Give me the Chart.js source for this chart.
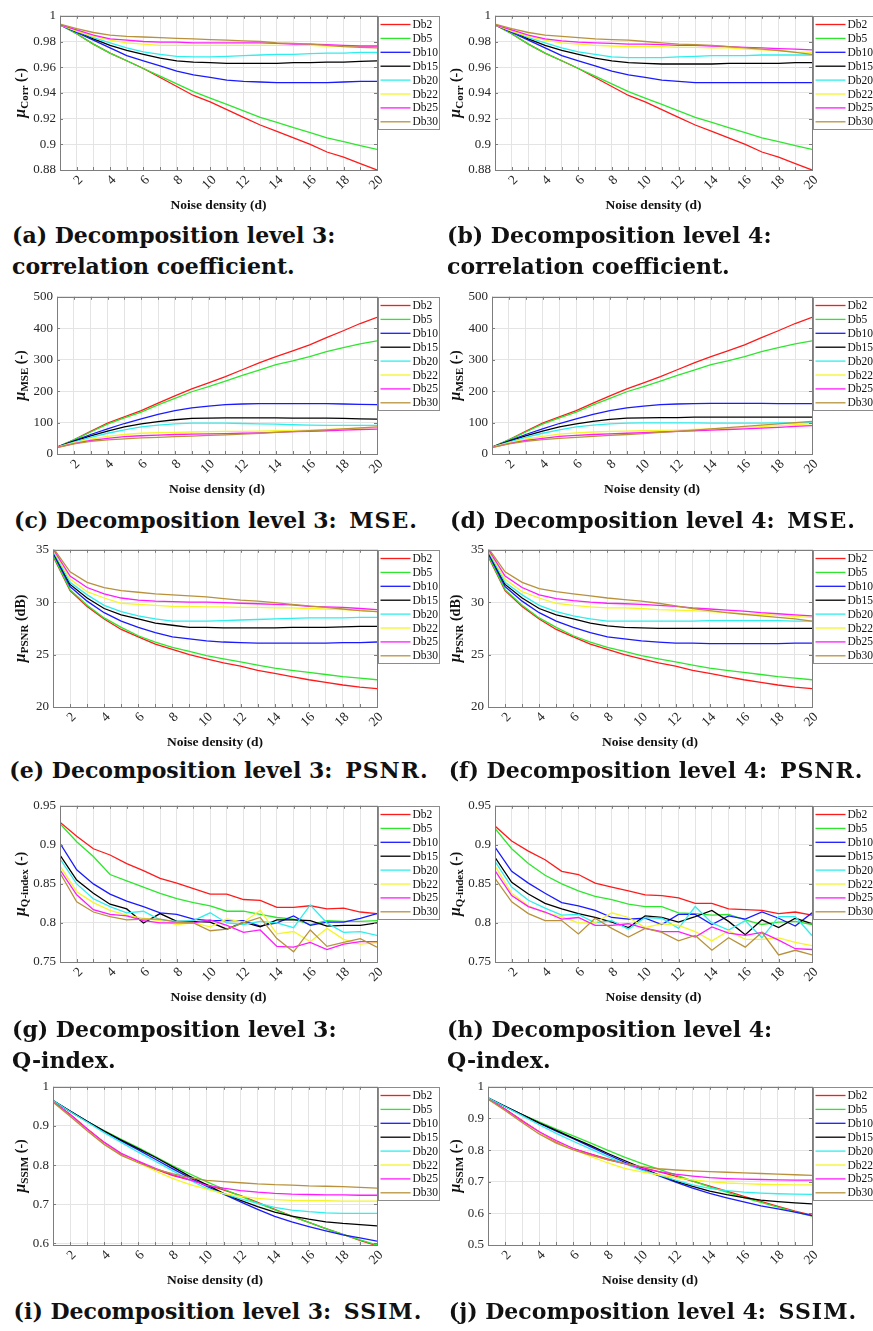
<!DOCTYPE html>
<html>
<head>
<meta charset="utf-8">
<script src="https://cdn.jsdelivr.net/npm/chart.js@4.4.1/dist/chart.umd.min.js"></script>
<style>
  html, body { margin: 0; padding: 0; background: #fff; }
  body { width: 873px; height: 1331px; position: relative; overflow: hidden; }
  .panel { position: absolute; }
  .cap {
    position: absolute;
    font-family: "DejaVu Serif", serif;
    font-weight: bold;
    font-size: 22px;
    line-height: 31px;
    color: #111;
    white-space: nowrap;
  }
  .cap.one { width: 440px; text-align: center; }
  .cap .tail { margin-left: 5px; letter-spacing: 1px; }
</style>
</head>
<body>
<script>
// x values (noise density) and tick labels
const noiseDensity = [1, 2, 3, 4, 5, 6, 7, 8, 9, 10, 11, 12, 13, 14, 15, 16, 17, 18, 19, 20];
const xLabelled = [2, 4, 6, 8, 10, 12, 14, 16, 18, 20];
const seriesNames = ['Db2', 'Db5', 'Db10', 'Db15', 'Db20', 'Db22', 'Db25', 'Db30'];
const seriesColors = ['#ff1a1a', '#2ee62e', '#1a1aff', '#000000', '#2eeeee', '#f5f52a', '#ff1aff', '#b8913a'];

const corrTicks = [0.88, 0.9, 0.92, 0.94, 0.96, 0.98, 1];
const mseTicks = [0, 100, 200, 300, 400, 500];
const psnrTicks = [20, 25, 30, 35];
const qTicks = [0.75, 0.8, 0.85, 0.9, 0.95];
const ssimTicks3 = [0.6, 0.7, 0.8, 0.9, 1];
const ssimTicks4 = [0.5, 0.6, 0.7, 0.8, 0.9, 1];

// one row per series, in seriesNames order
const corrLevel3 = [
  [0.993, 0.986, 0.978, 0.971, 0.965, 0.959, 0.952, 0.945, 0.938, 0.933, 0.927, 0.921, 0.915, 0.910, 0.905, 0.900, 0.894, 0.890, 0.885, 0.880],
  [0.993, 0.986, 0.978, 0.971, 0.965, 0.959, 0.953, 0.947, 0.941, 0.936, 0.931, 0.926, 0.921, 0.917, 0.913, 0.909, 0.905, 0.902, 0.899, 0.896],
  [0.993, 0.987, 0.981, 0.975, 0.969, 0.965, 0.961, 0.957, 0.954, 0.952, 0.950, 0.949, 0.9485, 0.948, 0.948, 0.948, 0.948, 0.9485, 0.949, 0.949],
  [0.993, 0.988, 0.982, 0.977, 0.973, 0.970, 0.967, 0.965, 0.964, 0.9635, 0.963, 0.963, 0.963, 0.963, 0.9635, 0.9635, 0.964, 0.964, 0.9645, 0.965],
  [0.993, 0.988, 0.983, 0.979, 0.975, 0.972, 0.970, 0.9685, 0.968, 0.968, 0.9685, 0.969, 0.9695, 0.970, 0.970, 0.9705, 0.971, 0.971, 0.9715, 0.9715],
  [0.993, 0.988, 0.984, 0.981, 0.979, 0.978, 0.977, 0.977, 0.977, 0.977, 0.977, 0.977, 0.977, 0.977, 0.977, 0.977, 0.9765, 0.9765, 0.976, 0.976],
  [0.993, 0.989, 0.985, 0.982, 0.981, 0.980, 0.9795, 0.9795, 0.979, 0.979, 0.979, 0.979, 0.979, 0.9785, 0.978, 0.978, 0.9775, 0.977, 0.9765, 0.9765],
  [0.9935, 0.990, 0.987, 0.985, 0.984, 0.9835, 0.983, 0.9825, 0.982, 0.9815, 0.981, 0.9805, 0.980, 0.979, 0.9785, 0.978, 0.977, 0.976, 0.9755, 0.975]
];
const corrLevel4 = [
  [0.993, 0.986, 0.978, 0.971, 0.965, 0.959, 0.952, 0.945, 0.938, 0.933, 0.927, 0.921, 0.915, 0.910, 0.905, 0.900, 0.894, 0.890, 0.885, 0.880],
  [0.993, 0.986, 0.978, 0.971, 0.965, 0.959, 0.953, 0.947, 0.941, 0.936, 0.931, 0.926, 0.921, 0.917, 0.913, 0.909, 0.905, 0.902, 0.899, 0.896],
  [0.993, 0.987, 0.981, 0.975, 0.969, 0.965, 0.961, 0.957, 0.954, 0.952, 0.950, 0.949, 0.948, 0.948, 0.948, 0.948, 0.948, 0.948, 0.948, 0.948],
  [0.993, 0.988, 0.982, 0.977, 0.973, 0.970, 0.967, 0.965, 0.9635, 0.963, 0.9625, 0.9625, 0.9625, 0.9625, 0.963, 0.963, 0.963, 0.963, 0.9635, 0.9635],
  [0.993, 0.988, 0.983, 0.979, 0.975, 0.972, 0.970, 0.968, 0.9675, 0.9675, 0.9675, 0.968, 0.9685, 0.969, 0.969, 0.969, 0.9695, 0.9695, 0.9695, 0.9695],
  [0.993, 0.988, 0.984, 0.981, 0.979, 0.978, 0.977, 0.9765, 0.976, 0.976, 0.976, 0.9755, 0.9755, 0.975, 0.975, 0.974, 0.9735, 0.973, 0.972, 0.9715],
  [0.993, 0.989, 0.985, 0.982, 0.9805, 0.9795, 0.979, 0.9785, 0.978, 0.978, 0.9775, 0.977, 0.977, 0.9765, 0.976, 0.9755, 0.975, 0.9745, 0.974, 0.9735],
  [0.9935, 0.990, 0.987, 0.985, 0.984, 0.983, 0.982, 0.9815, 0.981, 0.980, 0.979, 0.978, 0.9775, 0.977, 0.976, 0.975, 0.974, 0.973, 0.9715, 0.970]
];
const mseLevel3 = [
  [22, 45, 72, 98, 118, 138, 162, 185, 207, 226, 246, 268, 290, 310, 328, 347, 370, 392, 415, 435],
  [22, 45, 70, 95, 115, 133, 156, 177, 198, 214, 232, 250, 267, 284, 296, 310, 326, 338, 350, 360],
  [22, 42, 62, 80, 97, 112, 126, 138, 147, 152, 157, 159, 160, 160, 160, 160, 160, 159, 158, 157],
  [22, 40, 58, 73, 86, 96, 103, 109, 113, 114, 115, 115, 115, 115, 114, 114, 114, 113, 112, 111],
  [22, 38, 53, 66, 77, 86, 92, 96, 98, 98, 98, 97, 96, 95, 93, 92, 91, 91, 91, 91],
  [22, 35, 47, 56, 62, 66, 68, 69, 70, 71, 72, 72, 73, 74, 75, 76, 78, 80, 82, 84],
  [21, 33, 43, 50, 55, 58, 60, 62, 63, 64, 65, 66, 67, 69, 71, 72, 74, 76, 78, 79],
  [20, 32, 40, 45, 48, 51, 53, 55, 57, 59, 61, 63, 66, 69, 71, 74, 77, 80, 83, 86]
];
const mseLevel4 = [
  [22, 45, 72, 98, 118, 138, 162, 185, 207, 226, 246, 268, 290, 310, 328, 347, 370, 392, 415, 435],
  [22, 45, 70, 95, 115, 133, 156, 177, 198, 214, 232, 250, 267, 284, 296, 310, 326, 338, 350, 360],
  [22, 42, 62, 80, 97, 112, 126, 138, 147, 152, 157, 159, 160, 161, 161, 161, 161, 160, 160, 160],
  [22, 40, 58, 73, 86, 96, 104, 110, 114, 115, 116, 116, 117, 117, 117, 117, 117, 117, 117, 117],
  [22, 38, 53, 66, 77, 86, 92, 96, 98, 99, 99, 99, 99, 98, 98, 98, 98, 99, 99, 100],
  [22, 35, 47, 56, 63, 67, 70, 72, 73, 74, 75, 76, 78, 80, 82, 84, 87, 90, 93, 97],
  [21, 33, 43, 50, 56, 59, 62, 64, 66, 68, 70, 72, 74, 76, 78, 80, 82, 85, 88, 90],
  [20, 32, 40, 46, 50, 53, 56, 59, 62, 65, 69, 72, 76, 80, 84, 88, 92, 96, 100, 104]
];
const psnrLevel3 = [
  [34.4, 31.1, 29.6, 28.4, 27.4, 26.7, 26.0, 25.5, 25.0, 24.6, 24.2, 23.9, 23.5, 23.2, 22.9, 22.6, 22.35, 22.1, 21.9, 21.75],
  [34.5, 31.2, 29.7, 28.5, 27.6, 26.8, 26.2, 25.7, 25.3, 24.9, 24.6, 24.3, 24.0, 23.7, 23.5, 23.3, 23.1, 22.9, 22.75, 22.6],
  [34.7, 31.5, 30.1, 29.0, 28.2, 27.6, 27.1, 26.7, 26.5, 26.3, 26.2, 26.15, 26.1, 26.1, 26.1, 26.1, 26.1, 26.15, 26.15, 26.2],
  [34.8, 31.7, 30.4, 29.4, 28.8, 28.4, 28.0, 27.8, 27.6, 27.6, 27.55, 27.55, 27.55, 27.55, 27.6, 27.6, 27.6, 27.65, 27.7, 27.7],
  [34.9, 31.9, 30.7, 29.7, 29.1, 28.7, 28.4, 28.2, 28.2, 28.2, 28.25, 28.3, 28.35, 28.4, 28.45, 28.5, 28.5, 28.5, 28.55, 28.55],
  [35.0, 32.2, 31.0, 30.4, 29.9, 29.8, 29.7, 29.6, 29.6, 29.55, 29.55, 29.5, 29.5, 29.45, 29.45, 29.4, 29.35, 29.3, 29.2, 29.1],
  [35.1, 32.5, 31.4, 30.8, 30.4, 30.2, 30.1, 30.05, 30.0, 30.0, 29.95, 29.9, 29.85, 29.8, 29.75, 29.6, 29.55, 29.5, 29.4, 29.3],
  [35.2, 32.9, 31.9, 31.4, 31.1, 30.95, 30.8, 30.7, 30.6, 30.5, 30.35, 30.2, 30.1, 29.95, 29.8, 29.65, 29.5, 29.35, 29.2, 29.1]
];
const psnrLevel4 = [
  [34.4, 31.1, 29.6, 28.4, 27.4, 26.7, 26.0, 25.5, 25.0, 24.6, 24.2, 23.9, 23.5, 23.2, 22.9, 22.6, 22.35, 22.1, 21.9, 21.75],
  [34.5, 31.2, 29.7, 28.5, 27.6, 26.8, 26.2, 25.7, 25.3, 24.9, 24.6, 24.3, 24.0, 23.7, 23.5, 23.3, 23.1, 22.9, 22.75, 22.6],
  [34.7, 31.5, 30.1, 29.0, 28.2, 27.6, 27.1, 26.7, 26.5, 26.3, 26.2, 26.1, 26.1, 26.05, 26.05, 26.05, 26.05, 26.05, 26.1, 26.1],
  [34.8, 31.7, 30.4, 29.4, 28.8, 28.4, 28.0, 27.75, 27.6, 27.55, 27.5, 27.5, 27.5, 27.5, 27.5, 27.5, 27.5, 27.5, 27.5, 27.5],
  [34.9, 31.9, 30.7, 29.7, 29.1, 28.7, 28.4, 28.2, 28.2, 28.2, 28.2, 28.2, 28.2, 28.25, 28.25, 28.25, 28.25, 28.25, 28.2, 28.2],
  [35.0, 32.2, 31.0, 30.4, 29.9, 29.7, 29.55, 29.45, 29.45, 29.4, 29.3, 29.25, 29.2, 29.1, 29.0, 28.9, 28.85, 28.75, 28.65, 28.55],
  [35.1, 32.5, 31.4, 30.7, 30.35, 30.15, 30.0, 29.9, 29.85, 29.8, 29.7, 29.6, 29.45, 29.35, 29.25, 29.15, 29.0, 28.9, 28.8, 28.7],
  [35.2, 32.9, 31.9, 31.3, 31.0, 30.8, 30.6, 30.4, 30.25, 30.1, 29.9, 29.65, 29.4, 29.2, 29.0, 28.85, 28.7, 28.55, 28.4, 28.2]
];
const qLevel3 = [
  [0.929, 0.911, 0.895, 0.887, 0.876, 0.867, 0.857, 0.851, 0.844, 0.837, 0.837, 0.830, 0.829, 0.820, 0.820, 0.822, 0.818, 0.819, 0.814, 0.812],
  [0.927, 0.904, 0.885, 0.862, 0.854, 0.846, 0.838, 0.831, 0.826, 0.822, 0.815, 0.815, 0.811, 0.807, 0.805, 0.798, 0.803, 0.802, 0.802, 0.803],
  [0.902, 0.868, 0.850, 0.837, 0.828, 0.821, 0.813, 0.811, 0.805, 0.803, 0.803, 0.803, 0.796, 0.800, 0.809, 0.797, 0.801, 0.801, 0.806, 0.812],
  [0.887, 0.855, 0.838, 0.824, 0.818, 0.800, 0.812, 0.802, 0.802, 0.801, 0.792, 0.801, 0.795, 0.804, 0.804, 0.803, 0.796, 0.797, 0.797, 0.800],
  [0.882, 0.850, 0.831, 0.821, 0.813, 0.815, 0.804, 0.802, 0.803, 0.813, 0.800, 0.798, 0.802, 0.800, 0.794, 0.823, 0.800, 0.788, 0.789, 0.784],
  [0.873, 0.840, 0.826, 0.816, 0.810, 0.806, 0.803, 0.798, 0.800, 0.795, 0.805, 0.801, 0.816, 0.786, 0.789, 0.776, 0.793, 0.779, 0.773, 0.775],
  [0.868, 0.836, 0.817, 0.811, 0.809, 0.803, 0.800, 0.800, 0.800, 0.804, 0.797, 0.788, 0.791, 0.770, 0.769, 0.775, 0.766, 0.773, 0.776, 0.776],
  [0.864, 0.827, 0.814, 0.808, 0.804, 0.805, 0.805, 0.801, 0.800, 0.790, 0.792, 0.800, 0.807, 0.780, 0.763, 0.791, 0.770, 0.775, 0.780, 0.769]
];
const qLevel4 = [
  [0.924, 0.905, 0.892, 0.881, 0.866, 0.862, 0.851, 0.846, 0.841, 0.836, 0.835, 0.832, 0.825, 0.825, 0.818, 0.817, 0.816, 0.812, 0.814, 0.810],
  [0.921, 0.895, 0.876, 0.861, 0.850, 0.841, 0.834, 0.830, 0.824, 0.821, 0.821, 0.813, 0.812, 0.810, 0.811, 0.804, 0.798, 0.801, 0.802, 0.798],
  [0.897, 0.866, 0.851, 0.838, 0.826, 0.822, 0.816, 0.807, 0.805, 0.806, 0.798, 0.811, 0.811, 0.798, 0.809, 0.805, 0.814, 0.806, 0.796, 0.813],
  [0.884, 0.852, 0.837, 0.825, 0.818, 0.812, 0.807, 0.801, 0.794, 0.809, 0.807, 0.801, 0.808, 0.816, 0.802, 0.785, 0.804, 0.794, 0.806, 0.799],
  [0.879, 0.846, 0.829, 0.819, 0.810, 0.811, 0.800, 0.803, 0.792, 0.807, 0.806, 0.793, 0.821, 0.800, 0.791, 0.803, 0.781, 0.808, 0.808, 0.784],
  [0.873, 0.838, 0.822, 0.813, 0.808, 0.800, 0.800, 0.813, 0.807, 0.794, 0.799, 0.797, 0.789, 0.777, 0.790, 0.779, 0.779, 0.781, 0.775, 0.771],
  [0.867, 0.835, 0.821, 0.814, 0.805, 0.807, 0.797, 0.797, 0.799, 0.793, 0.789, 0.789, 0.782, 0.795, 0.787, 0.784, 0.788, 0.778, 0.767, 0.766],
  [0.857, 0.827, 0.812, 0.803, 0.803, 0.786, 0.806, 0.793, 0.782, 0.793, 0.788, 0.777, 0.784, 0.765, 0.781, 0.769, 0.788, 0.759, 0.765, 0.759]
];
const ssimLevel3 = [
  [0.962, 0.930, 0.893, 0.858, 0.828, 0.808, 0.790, 0.774, 0.762, 0.750, 0.737, 0.722, 0.705, 0.687, 0.670, 0.654, 0.638, 0.623, 0.608, 0.594],
  [0.964, 0.937, 0.911, 0.888, 0.866, 0.845, 0.822, 0.799, 0.778, 0.758, 0.739, 0.721, 0.703, 0.686, 0.670, 0.654, 0.638, 0.623, 0.609, 0.596],
  [0.965, 0.938, 0.912, 0.886, 0.862, 0.839, 0.815, 0.791, 0.768, 0.746, 0.726, 0.706, 0.687, 0.669, 0.655, 0.643, 0.632, 0.622, 0.614, 0.606],
  [0.965, 0.938, 0.912, 0.887, 0.864, 0.842, 0.820, 0.796, 0.772, 0.750, 0.728, 0.710, 0.694, 0.680, 0.670, 0.662, 0.655, 0.651, 0.648, 0.645],
  [0.965, 0.937, 0.910, 0.883, 0.858, 0.833, 0.810, 0.786, 0.762, 0.741, 0.727, 0.714, 0.702, 0.692, 0.685, 0.681, 0.678, 0.677, 0.677, 0.677],
  [0.962, 0.926, 0.890, 0.856, 0.830, 0.806, 0.785, 0.766, 0.751, 0.739, 0.727, 0.720, 0.715, 0.712, 0.710, 0.709, 0.709, 0.708, 0.708, 0.708],
  [0.962, 0.929, 0.892, 0.858, 0.830, 0.810, 0.792, 0.776, 0.763, 0.748, 0.741, 0.735, 0.731, 0.728, 0.726, 0.725, 0.724, 0.724, 0.723, 0.723],
  [0.961, 0.925, 0.888, 0.853, 0.825, 0.806, 0.790, 0.778, 0.768, 0.761, 0.758, 0.755, 0.752, 0.750, 0.749, 0.747, 0.746, 0.745, 0.743, 0.741]
];
const ssimLevel4 = [
  [0.962, 0.930, 0.893, 0.858, 0.826, 0.805, 0.788, 0.772, 0.758, 0.745, 0.732, 0.718, 0.702, 0.686, 0.670, 0.654, 0.638, 0.622, 0.607, 0.594],
  [0.964, 0.937, 0.912, 0.889, 0.866, 0.845, 0.823, 0.800, 0.778, 0.758, 0.740, 0.722, 0.703, 0.684, 0.667, 0.650, 0.635, 0.620, 0.605, 0.591],
  [0.965, 0.938, 0.912, 0.885, 0.860, 0.836, 0.811, 0.786, 0.762, 0.740, 0.719, 0.699, 0.680, 0.663, 0.649, 0.636, 0.624, 0.614, 0.604, 0.593],
  [0.965, 0.938, 0.912, 0.886, 0.862, 0.838, 0.815, 0.790, 0.767, 0.745, 0.722, 0.702, 0.685, 0.670, 0.659, 0.650, 0.642, 0.637, 0.633, 0.630],
  [0.965, 0.937, 0.909, 0.880, 0.853, 0.828, 0.804, 0.780, 0.757, 0.737, 0.722, 0.705, 0.690, 0.679, 0.672, 0.667, 0.664, 0.662, 0.661, 0.660],
  [0.962, 0.927, 0.891, 0.857, 0.828, 0.803, 0.780, 0.760, 0.742, 0.731, 0.722, 0.713, 0.706, 0.700, 0.696, 0.694, 0.692, 0.691, 0.690, 0.690],
  [0.962, 0.929, 0.892, 0.858, 0.830, 0.805, 0.787, 0.770, 0.757, 0.743, 0.732, 0.724, 0.718, 0.713, 0.710, 0.708, 0.707, 0.706, 0.705, 0.705],
  [0.961, 0.925, 0.887, 0.851, 0.822, 0.801, 0.784, 0.770, 0.758, 0.748, 0.741, 0.737, 0.734, 0.732, 0.730, 0.728, 0.726, 0.724, 0.722, 0.720]
];

// layout: rows (plot top / plot height) and columns
const rows = [
  { top: 12, h: 158 },
  { top: 293, h: 161 },
  { top: 546, h: 161 },
  { top: 802, h: 160 },
  { top: 1083, h: 162 }
];
const colX = [0, 435];
const PAD_TOP = 8, XAXIS_H = 46, LEGEND_W = 63, CANVAS_W = 440;

const panels = [
  { row: 0, col: 0, data: corrLevel3, ticks: corrTicks, min: 0.88, max: 1, sub: 'Corr', unit: ' (-)', yw: 60 },
  { row: 0, col: 1, data: corrLevel4, ticks: corrTicks, min: 0.88, max: 1, sub: 'Corr', unit: ' (-)', yw: 60 },
  { row: 1, col: 0, data: mseLevel3, ticks: mseTicks, min: 0, max: 500, sub: 'MSE', unit: ' (-)', yw: 57 },
  { row: 1, col: 1, data: mseLevel4, ticks: mseTicks, min: 0, max: 500, sub: 'MSE', unit: ' (-)', yw: 57 },
  { row: 2, col: 0, data: psnrLevel3, ticks: psnrTicks, min: 20, max: 35, sub: 'PSNR', unit: ' (dB)', yw: 53 },
  { row: 2, col: 1, data: psnrLevel4, ticks: psnrTicks, min: 20, max: 35, sub: 'PSNR', unit: ' (dB)', yw: 53 },
  { row: 3, col: 0, data: qLevel3, ticks: qTicks, min: 0.75, max: 0.95, sub: 'Q-index', unit: ' (-)', yw: 60 },
  { row: 3, col: 1, data: qLevel4, ticks: qTicks, min: 0.75, max: 0.95, sub: 'Q-index', unit: ' (-)', yw: 60 },
  { row: 4, col: 0, data: ssimLevel3, ticks: ssimTicks3, min: 0.596, max: 1, sub: 'SSIM', unit: ' (-)', yw: 53 },
  { row: 4, col: 1, data: ssimLevel4, ticks: ssimTicks4, min: 0.5, max: 1, sub: 'SSIM', unit: ' (-)', yw: 53 }
];

// two-line captions start at the left margin, one-line captions are centred
const captions = [
  { x: 12, y: 220, html: '(a) Decomposition level 3:<br>correlation coefficient.' },
  { x: 447, y: 220, html: '(b) Decomposition level 4:<br>correlation coefficient.' },
  { cx: 216, y: 505, html: '(c) Decomposition level 3: <span class="tail">MSE.</span>' },
  { cx: 653, y: 505, html: '(d) Decomposition level 4: <span class="tail">MSE.</span>' },
  { cx: 219, y: 755, html: '(e) Decomposition level 3: <span class="tail">PSNR.</span>' },
  { cx: 656, y: 755, html: '(f) Decomposition level 4: <span class="tail">PSNR.</span>' },
  { x: 12, y: 1014, html: '(g) Decomposition level 3:<br>Q-index.' },
  { x: 447, y: 1014, html: '(h) Decomposition level 4:<br>Q-index.' },
  { cx: 218, y: 1296, html: '(i) Decomposition level 3: <span class="tail">SSIM.</span>' },
  { cx: 653, y: 1296, html: '(j) Decomposition level 4: <span class="tail">SSIM.</span>' }
];

const SERIF = '"Liberation Serif", "Times New Roman", serif';
Chart.defaults.font.family = SERIF;
Chart.defaults.color = '#262626';

// box, inner tick marks, rotated x labels, y title with subscript, legend box
const matlabLook = {
  id: 'matlabLook',
  afterDraw(chart, args, opts) {
    const ctx = chart.ctx;
    const { left, right, top, bottom } = chart.chartArea;
    const xs = chart.scales.x, ys = chart.scales.y;
    ctx.save();
    ctx.strokeStyle = '#7d7d7d';
    ctx.lineWidth = 1;
    ctx.beginPath();
    xs.ticks.forEach(t => {
      const px = Math.round(xs.getPixelForValue(t.value)) + 0.5;
      ctx.moveTo(px, bottom); ctx.lineTo(px, bottom - 3);
      ctx.moveTo(px, top); ctx.lineTo(px, top + 3);
    });
    ys.ticks.forEach(t => {
      const py = Math.round(ys.getPixelForValue(t.value)) + 0.5;
      ctx.moveTo(left, py); ctx.lineTo(left + 3, py);
      ctx.moveTo(right, py); ctx.lineTo(right - 3, py);
    });
    ctx.stroke();
    ctx.strokeRect(Math.round(left) + 0.5, Math.round(top) + 0.5, Math.round(right - left), Math.round(bottom - top));

    // x tick labels rotated 45 degrees
    ctx.fillStyle = '#262626';
    ctx.font = '13.5px ' + SERIF;
    ctx.textAlign = 'right';
    ctx.textBaseline = 'middle';
    xLabelled.forEach(v => {
      const px = xs.getPixelForValue(v);
      ctx.save();
      ctx.translate(px + 4, bottom + 8);
      ctx.rotate(-Math.PI / 4);
      ctx.fillText(String(v), 0, 0);
      ctx.restore();
    });
    ctx.textAlign = 'left';

    // y axis title: mu with subscript
    ctx.save();
    ctx.translate(21, (top + bottom) / 2);
    ctx.rotate(-Math.PI / 2);
    ctx.fillStyle = '#111';
    ctx.textBaseline = 'alphabetic';
    const fMu = 'bold italic 16px ' + SERIF;
    const fSub = 'bold 11px ' + SERIF;
    const fUnit = 'bold 14px ' + SERIF;
    ctx.font = fMu; const wMu = ctx.measureText('\u03bc').width;
    ctx.font = fSub; const wSub = ctx.measureText(opts.sub).width;
    ctx.font = fUnit; const wUnit = ctx.measureText(opts.unit).width;
    let x0 = -(wMu + wSub + wUnit) / 2;
    ctx.font = fMu; ctx.fillText('\u03bc', x0, 4); x0 += wMu;
    ctx.font = fSub; ctx.fillText(opts.sub, x0, 7); x0 += wSub;
    ctx.font = fUnit; ctx.fillText(opts.unit, x0, 4);
    ctx.restore();

    // legend box
    const bx = Math.round(right) + 1.5, by = Math.round(top) + 0.5, bw = 61, bh = 113;
    ctx.fillStyle = '#fff';
    ctx.fillRect(bx, by, bw, bh);
    ctx.strokeStyle = '#8c8c8c';
    ctx.strokeRect(bx, by, bw, bh);
    ctx.font = '11.5px ' + SERIF;
    ctx.textBaseline = 'middle';
    chart.data.datasets.forEach((ds, i) => {
      const y = by + 8 + i * 13.9;
      ctx.strokeStyle = ds.borderColor;
      ctx.lineWidth = 1.3;
      ctx.beginPath();
      ctx.moveTo(bx + 2, y); ctx.lineTo(bx + 32, y);
      ctx.stroke();
      ctx.fillStyle = '#111';
      ctx.fillText(ds.label, bx + 34, y + 0.5);
    });
    ctx.restore();
  }
};

panels.forEach(p => {
  const row = rows[p.row];
  const div = document.createElement('div');
  div.className = 'panel';
  div.style.left = colX[p.col] + 'px';
  div.style.top = (row.top - PAD_TOP) + 'px';
  const canvas = document.createElement('canvas');
  canvas.width = CANVAS_W;
  canvas.height = PAD_TOP + row.h + XAXIS_H;
  div.appendChild(canvas);
  document.body.appendChild(div);

  new Chart(canvas.getContext('2d'), {
    type: 'line',
    data: {
      datasets: seriesNames.map((name, i) => ({
        label: name,
        data: p.data[i].map((v, j) => ({ x: noiseDensity[j], y: v })),
        borderColor: seriesColors[i],
        borderWidth: 1.3,
        pointRadius: 0,
        tension: 0,
        fill: false,
        order: seriesNames.length - i
      }))
    },
    options: {
      responsive: false,
      animation: false,
      events: [],
      layout: { padding: { top: PAD_TOP, right: LEGEND_W, left: 0, bottom: 0 } },
      scales: {
        x: {
          type: 'linear',
          min: 1,
          max: 20,
          afterBuildTicks: s => { s.ticks = noiseDensity.map(v => ({ value: v })); },
          afterFit: s => { s.height = XAXIS_H; },
          ticks: { display: false, autoSkip: false },
          grid: { color: '#e4e4e4', drawTicks: false },
          border: { display: false },
          title: {
            display: true,
            text: 'Noise density (d)',
            font: { family: SERIF, size: 13.5, weight: 'bold' },
            color: '#111',
            padding: { top: 0, bottom: 2 }
          }
        },
        y: {
          min: p.min,
          max: p.max,
          afterBuildTicks: s => { s.ticks = p.ticks.map(v => ({ value: v })); },
          afterFit: s => { s.width = p.yw; },
          ticks: {
            padding: 4,
            font: { family: SERIF, size: 13 },
            callback: v => String(v)
          },
          grid: { color: '#e4e4e4', drawTicks: false },
          border: { display: false }
        }
      },
      plugins: {
        legend: { display: false },
        tooltip: { enabled: false },
        matlabLook: { sub: p.sub, unit: p.unit }
      }
    },
    plugins: [matlabLook]
  });
});

captions.forEach(c => {
  const d = document.createElement('div');
  d.className = 'cap';
  if (c.cx !== undefined) {
    d.classList.add('one');
    d.style.left = (c.cx - 220) + 'px';
  } else {
    d.style.left = c.x + 'px';
  }
  d.style.top = c.y + 'px';
  d.innerHTML = c.html;
  document.body.appendChild(d);
});
</script>
</body>
</html>
